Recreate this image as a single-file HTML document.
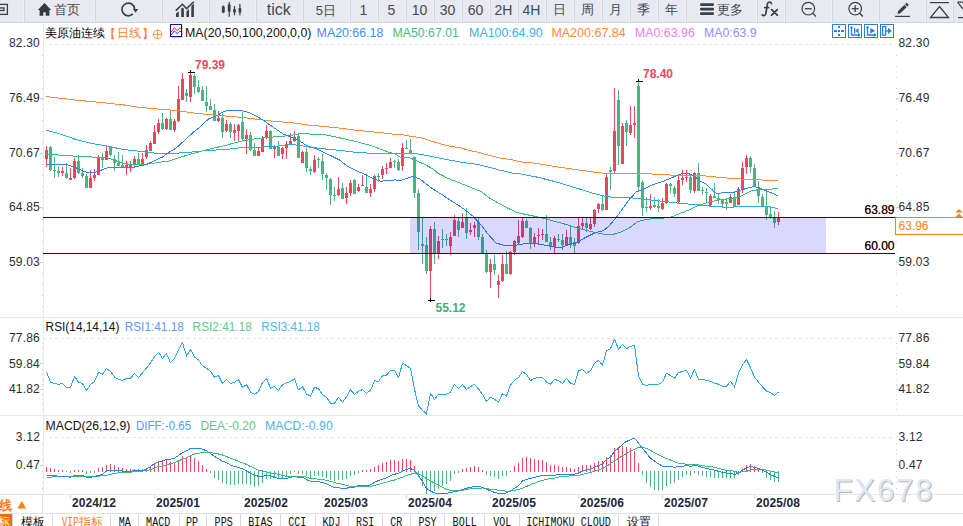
<!DOCTYPE html>
<html><head><meta charset="utf-8"><title>chart</title>
<style>html,body{margin:0;padding:0;background:#fff;}body{width:963px;height:526px;overflow:hidden;position:relative;font-family:"Liberation Sans",sans-serif;}</style>
</head><body>
<svg width="963" height="526" viewBox="0 0 963 526" style="position:absolute;left:0;top:0">
<defs><clipPath id="macdclip"><rect x="44" y="416" width="852" height="78"/></clipPath><clipPath id="mainclip"><rect x="43" y="23" width="853" height="294"/></clipPath></defs>
<rect x="0" y="0" width="963" height="22" fill="#e9e9f2"/>
<rect x="0" y="22" width="963" height="1" fill="#d3d5dc"/>
<rect x="24" y="0" width="1" height="22" fill="#d4d6dd"/>
<rect x="23" y="0" width="1" height="22" fill="#f2f2f6"/>
<rect x="95" y="0" width="1" height="22" fill="#d4d6dd"/>
<rect x="94" y="0" width="1" height="22" fill="#f2f2f6"/>
<rect x="162" y="0" width="1" height="22" fill="#d4d6dd"/>
<rect x="161" y="0" width="1" height="22" fill="#f2f2f6"/>
<rect x="209" y="0" width="1" height="22" fill="#d4d6dd"/>
<rect x="208" y="0" width="1" height="22" fill="#f2f2f6"/>
<rect x="256" y="0" width="1" height="22" fill="#d4d6dd"/>
<rect x="255" y="0" width="1" height="22" fill="#f2f2f6"/>
<rect x="303" y="0" width="1" height="22" fill="#d4d6dd"/>
<rect x="302" y="0" width="1" height="22" fill="#f2f2f6"/>
<rect x="350" y="0" width="1" height="22" fill="#d4d6dd"/>
<rect x="349" y="0" width="1" height="22" fill="#f2f2f6"/>
<rect x="378" y="0" width="1" height="22" fill="#d4d6dd"/>
<rect x="377" y="0" width="1" height="22" fill="#f2f2f6"/>
<rect x="406" y="0" width="1" height="22" fill="#d4d6dd"/>
<rect x="405" y="0" width="1" height="22" fill="#f2f2f6"/>
<rect x="434" y="0" width="1" height="22" fill="#d4d6dd"/>
<rect x="433" y="0" width="1" height="22" fill="#f2f2f6"/>
<rect x="462" y="0" width="1" height="22" fill="#d4d6dd"/>
<rect x="461" y="0" width="1" height="22" fill="#f2f2f6"/>
<rect x="490" y="0" width="1" height="22" fill="#d4d6dd"/>
<rect x="489" y="0" width="1" height="22" fill="#f2f2f6"/>
<rect x="518" y="0" width="1" height="22" fill="#d4d6dd"/>
<rect x="517" y="0" width="1" height="22" fill="#f2f2f6"/>
<rect x="546" y="0" width="1" height="22" fill="#d4d6dd"/>
<rect x="545" y="0" width="1" height="22" fill="#f2f2f6"/>
<rect x="574" y="0" width="1" height="22" fill="#d4d6dd"/>
<rect x="573" y="0" width="1" height="22" fill="#f2f2f6"/>
<rect x="602" y="0" width="1" height="22" fill="#d4d6dd"/>
<rect x="601" y="0" width="1" height="22" fill="#f2f2f6"/>
<rect x="630" y="0" width="1" height="22" fill="#d4d6dd"/>
<rect x="629" y="0" width="1" height="22" fill="#f2f2f6"/>
<rect x="658" y="0" width="1" height="22" fill="#d4d6dd"/>
<rect x="657" y="0" width="1" height="22" fill="#f2f2f6"/>
<rect x="686" y="0" width="1" height="22" fill="#d4d6dd"/>
<rect x="685" y="0" width="1" height="22" fill="#f2f2f6"/>
<rect x="757" y="0" width="1" height="22" fill="#d4d6dd"/>
<rect x="756" y="0" width="1" height="22" fill="#f2f2f6"/>
<rect x="785" y="0" width="1" height="22" fill="#d4d6dd"/>
<rect x="784" y="0" width="1" height="22" fill="#f2f2f6"/>
<rect x="832" y="0" width="1" height="22" fill="#d4d6dd"/>
<rect x="831" y="0" width="1" height="22" fill="#f2f2f6"/>
<rect x="879" y="0" width="1" height="22" fill="#d4d6dd"/>
<rect x="878" y="0" width="1" height="22" fill="#f2f2f6"/>
<rect x="926" y="0" width="1" height="22" fill="#d4d6dd"/>
<rect x="925" y="0" width="1" height="22" fill="#f2f2f6"/>
<rect x="953" y="0" width="1" height="22" fill="#d4d6dd"/>
<rect x="952" y="0" width="1" height="22" fill="#f2f2f6"/>
<rect x="-4" y="4.4" width="11.4" height="10" fill="none" stroke="#3b3f48" stroke-width="1.3"/>
<rect x="-1" y="7.9" width="5" height="2.6" fill="none" stroke="#3b3f48" stroke-width="1.3"/>
<path d="M37.8 9.9 L44.5 2.9 L51.2 9.9 L49.4 9.9 L49.4 15.7 L45.7 15.7 L45.7 12.2 L43.3 12.2 L43.3 15.7 L39.6 15.7 L39.6 9.9 Z" fill="#2f3a44"/>
<path d="M134.6 8.8 A6.35 6.35 0 1 0 132.8 13.9" fill="none" stroke="#3b3f48" stroke-width="1.7"/>
<path d="M132.8 8.9 L138.2 8.9 L135.6 12.7 Z" fill="#3b3f48"/>
<path d="M176 13.6 L178.8 11.2 L178.8 17 L176 17 Z M181.2 8.6 L182.4 7.4 L183.9 8.8 L183.9 17 L181.2 17 Z M186.4 11.6 L189 9 L189 17 L186.4 17 Z M191.3 6 L193.9 3.5 L193.9 17 L191.3 17 Z" fill="#3b3f48"/>
<path d="M175.8 10.6 L182.4 4.3 L186.6 8.6 L193.8 1.8" fill="none" stroke="#3b3f48" stroke-width="1.5"/>
<rect x="222.70000000000002" y="5.5" width="1.2" height="7.699999999999999" fill="#3b3f48"/>
<rect x="221.85000000000002" y="6.2" width="2.9" height="6.3999999999999995" fill="#3b3f48" rx="0.6"/>
<rect x="228.6" y="2" width="1.2" height="14.8" fill="#3b3f48"/>
<rect x="227.79999999999998" y="4.3" width="2.8" height="7.3999999999999995" fill="#3b3f48" rx="0.6"/>
<rect x="233.9" y="6" width="1.2" height="9.4" fill="#3b3f48"/>
<rect x="233.15" y="8.9" width="2.7" height="3.6999999999999993" fill="#3b3f48" rx="0.6"/>
<rect x="239.3" y="3.9" width="1.2" height="11.5" fill="#3b3f48"/>
<rect x="238.55" y="7.9" width="2.7" height="4.699999999999999" fill="#3b3f48" rx="0.6"/>
<text x="67" y="13.8" font-family="'Liberation Sans', sans-serif" font-size="12.5" fill="#464a53" text-anchor="middle" >首页</text>
<text x="278.8" y="15" font-family="'Liberation Sans', sans-serif" font-size="16" fill="#464a53" text-anchor="middle" >tick</text>
<text x="325.8" y="14.5" font-family="'Liberation Sans', sans-serif" font-size="13" fill="#464a53" text-anchor="middle" >5日</text>
<text x="363.5" y="14.6" font-family="'Liberation Sans', sans-serif" font-size="14" fill="#464a53" text-anchor="middle" >1</text>
<text x="391.5" y="14.6" font-family="'Liberation Sans', sans-serif" font-size="14" fill="#464a53" text-anchor="middle" >5</text>
<text x="419.5" y="14.6" font-family="'Liberation Sans', sans-serif" font-size="14" fill="#464a53" text-anchor="middle" >10</text>
<text x="447.5" y="14.6" font-family="'Liberation Sans', sans-serif" font-size="14" fill="#464a53" text-anchor="middle" >30</text>
<text x="475.5" y="14.6" font-family="'Liberation Sans', sans-serif" font-size="14" fill="#464a53" text-anchor="middle" >60</text>
<text x="503.5" y="14.6" font-family="'Liberation Sans', sans-serif" font-size="14" fill="#464a53" text-anchor="middle" >2H</text>
<text x="531.5" y="14.6" font-family="'Liberation Sans', sans-serif" font-size="14" fill="#464a53" text-anchor="middle" >4H</text>
<text x="559.5" y="13.8" font-family="'Liberation Sans', sans-serif" font-size="12.5" fill="#464a53" text-anchor="middle" >日</text>
<text x="587.5" y="13.8" font-family="'Liberation Sans', sans-serif" font-size="12.5" fill="#464a53" text-anchor="middle" >周</text>
<text x="615.5" y="13.8" font-family="'Liberation Sans', sans-serif" font-size="12.5" fill="#464a53" text-anchor="middle" >月</text>
<text x="643.5" y="13.8" font-family="'Liberation Sans', sans-serif" font-size="12.5" fill="#464a53" text-anchor="middle" >季</text>
<text x="671.5" y="13.8" font-family="'Liberation Sans', sans-serif" font-size="12.5" fill="#464a53" text-anchor="middle" >年</text>
<rect x="700" y="3.3" width="14" height="2.6" rx="1.2" fill="#3b3f48"/>
<rect x="700" y="7.8" width="14" height="2.6" rx="1.2" fill="#3b3f48"/>
<rect x="700" y="12.3" width="14" height="2.6" rx="1.2" fill="#3b3f48"/>
<text x="730" y="13.8" font-family="'Liberation Sans', sans-serif" font-size="12.5" fill="#464a53" text-anchor="middle" >更多</text>
<path d="M771.4 3.6 C770.8 1.5 768 1.3 767.4 4 L765.9 13.4 C765.5 15.8 763.5 15.9 762.2 15" fill="none" stroke="#3b3f48" stroke-width="1.7" stroke-linecap="round"/>
<path d="M764 7.6 H769.4" fill="none" stroke="#3b3f48" stroke-width="1.6"/>
<path d="M771.6 9.6 L777.3 15.2 M777.3 9.6 L771.6 15.2" fill="none" stroke="#3b3f48" stroke-width="1.8" stroke-linecap="round"/>
<circle cx="808.3" cy="8.7" r="6.3" fill="none" stroke="#3b3f48" stroke-width="1.2"/>
<line x1="812.9" y1="13.299999999999999" x2="815.9" y2="16.5" stroke="#3b3f48" stroke-width="1.3"/>
<line x1="804.9" y1="8.7" x2="811.6999999999999" y2="8.7" stroke="#3b3f48" stroke-width="1.3"/>
<circle cx="855.2" cy="8.7" r="6.3" fill="none" stroke="#3b3f48" stroke-width="1.2"/>
<line x1="859.8000000000001" y1="13.299999999999999" x2="862.8000000000001" y2="16.5" stroke="#3b3f48" stroke-width="1.3"/>
<line x1="851.8000000000001" y1="8.7" x2="858.6" y2="8.7" stroke="#3b3f48" stroke-width="1.3"/>
<line x1="855.2" y1="5.299999999999999" x2="855.2" y2="12.1" stroke="#3b3f48" stroke-width="1.3"/>
<path d="M897.5 14 L898.14 11.1 L904.5 4.74 L906.76 7 L900.4 13.36 Z M905.07 4.17 L906.62 2.62 L908.88 4.88 L907.33 6.43 Z" fill="#3b3f48"/>
<rect x="895" y="15.8" width="15" height="1.2" fill="#3b3f48"/>
<rect x="930" y="2" width="19" height="1.2" fill="#3b3f48"/>
<path d="M939.5 6.5 L948.5 17.5 L930.5 17.5 Z" fill="none" stroke="#3b3f48" stroke-width="1.3"/>
<path d="M957.5 2.2 L964 2.2 M957.5 2.2 L963 9" fill="none" stroke="#3b3f48" stroke-width="1.2"/>
<rect x="958" y="17" width="5" height="1.2" fill="#3b3f48"/>
<rect x="0" y="317" width="963" height="1" fill="#e4e7ed"/>
<rect x="0" y="415" width="963" height="1" fill="#e4e7ed"/>
<rect x="0" y="494" width="963" height="1" fill="#e4e7ed"/>
<rect x="43" y="23" width="1" height="471" fill="#e6ebf2"/>
<text x="40" y="47.2" font-family="'Liberation Sans', sans-serif" font-size="12" fill="#2a2d36" text-anchor="end" letter-spacing="0.2">82.30</text>
<text x="898.5" y="47.2" font-family="'Liberation Sans', sans-serif" font-size="12" fill="#2a2d36" letter-spacing="0.2">82.30</text>
<text x="40" y="101.8" font-family="'Liberation Sans', sans-serif" font-size="12" fill="#2a2d36" text-anchor="end" letter-spacing="0.2">76.49</text>
<text x="898.5" y="101.8" font-family="'Liberation Sans', sans-serif" font-size="12" fill="#2a2d36" letter-spacing="0.2">76.49</text>
<rect x="40" y="98" width="3" height="1" fill="#c9ced6"/>
<rect x="896" y="98" width="3" height="1" fill="#c9ced6"/>
<text x="40" y="156.5" font-family="'Liberation Sans', sans-serif" font-size="12" fill="#2a2d36" text-anchor="end" letter-spacing="0.2">70.67</text>
<text x="898.5" y="156.5" font-family="'Liberation Sans', sans-serif" font-size="12" fill="#2a2d36" letter-spacing="0.2">70.67</text>
<rect x="40" y="153" width="3" height="1" fill="#c9ced6"/>
<rect x="896" y="153" width="3" height="1" fill="#c9ced6"/>
<text x="40" y="211.2" font-family="'Liberation Sans', sans-serif" font-size="12" fill="#2a2d36" text-anchor="end" letter-spacing="0.2">64.85</text>
<text x="898.5" y="211.2" font-family="'Liberation Sans', sans-serif" font-size="12" fill="#2a2d36" letter-spacing="0.2">64.85</text>
<rect x="40" y="207" width="3" height="1" fill="#c9ced6"/>
<rect x="896" y="207" width="3" height="1" fill="#c9ced6"/>
<text x="40" y="265.8" font-family="'Liberation Sans', sans-serif" font-size="12" fill="#2a2d36" text-anchor="end" letter-spacing="0.2">59.03</text>
<text x="898.5" y="265.8" font-family="'Liberation Sans', sans-serif" font-size="12" fill="#2a2d36" letter-spacing="0.2">59.03</text>
<rect x="40" y="262" width="3" height="1" fill="#c9ced6"/>
<rect x="896" y="262" width="3" height="1" fill="#c9ced6"/>
<rect x="42" y="55" width="1" height="1" fill="#c9ced6"/>
<rect x="896" y="55" width="1" height="1" fill="#c9ced6"/>
<rect x="42" y="66" width="1" height="1" fill="#c9ced6"/>
<rect x="896" y="66" width="1" height="1" fill="#c9ced6"/>
<rect x="42" y="77" width="1" height="1" fill="#c9ced6"/>
<rect x="896" y="77" width="1" height="1" fill="#c9ced6"/>
<rect x="42" y="88" width="1" height="1" fill="#c9ced6"/>
<rect x="896" y="88" width="1" height="1" fill="#c9ced6"/>
<rect x="42" y="99" width="1" height="1" fill="#c9ced6"/>
<rect x="896" y="99" width="1" height="1" fill="#c9ced6"/>
<rect x="42" y="109" width="1" height="1" fill="#c9ced6"/>
<rect x="896" y="109" width="1" height="1" fill="#c9ced6"/>
<rect x="42" y="120" width="1" height="1" fill="#c9ced6"/>
<rect x="896" y="120" width="1" height="1" fill="#c9ced6"/>
<rect x="42" y="131" width="1" height="1" fill="#c9ced6"/>
<rect x="896" y="131" width="1" height="1" fill="#c9ced6"/>
<rect x="42" y="142" width="1" height="1" fill="#c9ced6"/>
<rect x="896" y="142" width="1" height="1" fill="#c9ced6"/>
<rect x="42" y="153" width="1" height="1" fill="#c9ced6"/>
<rect x="896" y="153" width="1" height="1" fill="#c9ced6"/>
<rect x="42" y="164" width="1" height="1" fill="#c9ced6"/>
<rect x="896" y="164" width="1" height="1" fill="#c9ced6"/>
<rect x="42" y="175" width="1" height="1" fill="#c9ced6"/>
<rect x="896" y="175" width="1" height="1" fill="#c9ced6"/>
<rect x="42" y="186" width="1" height="1" fill="#c9ced6"/>
<rect x="896" y="186" width="1" height="1" fill="#c9ced6"/>
<rect x="42" y="197" width="1" height="1" fill="#c9ced6"/>
<rect x="896" y="197" width="1" height="1" fill="#c9ced6"/>
<rect x="42" y="208" width="1" height="1" fill="#c9ced6"/>
<rect x="896" y="208" width="1" height="1" fill="#c9ced6"/>
<rect x="42" y="219" width="1" height="1" fill="#c9ced6"/>
<rect x="896" y="219" width="1" height="1" fill="#c9ced6"/>
<rect x="42" y="230" width="1" height="1" fill="#c9ced6"/>
<rect x="896" y="230" width="1" height="1" fill="#c9ced6"/>
<rect x="42" y="241" width="1" height="1" fill="#c9ced6"/>
<rect x="896" y="241" width="1" height="1" fill="#c9ced6"/>
<rect x="42" y="252" width="1" height="1" fill="#c9ced6"/>
<rect x="896" y="252" width="1" height="1" fill="#c9ced6"/>
<rect x="42" y="262" width="1" height="1" fill="#c9ced6"/>
<rect x="896" y="262" width="1" height="1" fill="#c9ced6"/>
<rect x="42" y="273" width="1" height="1" fill="#c9ced6"/>
<rect x="896" y="273" width="1" height="1" fill="#c9ced6"/>
<rect x="42" y="284" width="1" height="1" fill="#c9ced6"/>
<rect x="896" y="284" width="1" height="1" fill="#c9ced6"/>
<rect x="42" y="295" width="1" height="1" fill="#c9ced6"/>
<rect x="896" y="295" width="1" height="1" fill="#c9ced6"/>
<rect x="42" y="306" width="1" height="1" fill="#c9ced6"/>
<rect x="896" y="306" width="1" height="1" fill="#c9ced6"/>
<line x1="44" y1="44.5" x2="893" y2="44.5" stroke="#e2e7ed" stroke-width="1" stroke-dasharray="3,3" stroke-dashoffset="1"/>
<text x="40" y="342.1" font-family="'Liberation Sans', sans-serif" font-size="12" fill="#2a2d36" text-anchor="end" letter-spacing="0.2">77.86</text>
<text x="898.5" y="342.1" font-family="'Liberation Sans', sans-serif" font-size="12" fill="#2a2d36" letter-spacing="0.2">77.86</text>
<text x="40" y="367.7" font-family="'Liberation Sans', sans-serif" font-size="12" fill="#2a2d36" text-anchor="end" letter-spacing="0.2">59.84</text>
<text x="898.5" y="367.7" font-family="'Liberation Sans', sans-serif" font-size="12" fill="#2a2d36" letter-spacing="0.2">59.84</text>
<rect x="40" y="363" width="3" height="1" fill="#c9ced6"/>
<rect x="896" y="363" width="3" height="1" fill="#c9ced6"/>
<text x="40" y="393.3" font-family="'Liberation Sans', sans-serif" font-size="12" fill="#2a2d36" text-anchor="end" letter-spacing="0.2">41.82</text>
<text x="898.5" y="393.3" font-family="'Liberation Sans', sans-serif" font-size="12" fill="#2a2d36" letter-spacing="0.2">41.82</text>
<rect x="40" y="389" width="3" height="1" fill="#c9ced6"/>
<rect x="896" y="389" width="3" height="1" fill="#c9ced6"/>
<rect x="42" y="343" width="1" height="1" fill="#c9ced6"/>
<rect x="896" y="343" width="1" height="1" fill="#c9ced6"/>
<rect x="42" y="348" width="1" height="1" fill="#c9ced6"/>
<rect x="896" y="348" width="1" height="1" fill="#c9ced6"/>
<rect x="42" y="353" width="1" height="1" fill="#c9ced6"/>
<rect x="896" y="353" width="1" height="1" fill="#c9ced6"/>
<rect x="42" y="358" width="1" height="1" fill="#c9ced6"/>
<rect x="896" y="358" width="1" height="1" fill="#c9ced6"/>
<rect x="42" y="363" width="1" height="1" fill="#c9ced6"/>
<rect x="896" y="363" width="1" height="1" fill="#c9ced6"/>
<rect x="42" y="369" width="1" height="1" fill="#c9ced6"/>
<rect x="896" y="369" width="1" height="1" fill="#c9ced6"/>
<rect x="42" y="374" width="1" height="1" fill="#c9ced6"/>
<rect x="896" y="374" width="1" height="1" fill="#c9ced6"/>
<rect x="42" y="379" width="1" height="1" fill="#c9ced6"/>
<rect x="896" y="379" width="1" height="1" fill="#c9ced6"/>
<rect x="42" y="384" width="1" height="1" fill="#c9ced6"/>
<rect x="896" y="384" width="1" height="1" fill="#c9ced6"/>
<rect x="42" y="389" width="1" height="1" fill="#c9ced6"/>
<rect x="896" y="389" width="1" height="1" fill="#c9ced6"/>
<rect x="42" y="394" width="1" height="1" fill="#c9ced6"/>
<rect x="896" y="394" width="1" height="1" fill="#c9ced6"/>
<rect x="42" y="399" width="1" height="1" fill="#c9ced6"/>
<rect x="896" y="399" width="1" height="1" fill="#c9ced6"/>
<rect x="42" y="404" width="1" height="1" fill="#c9ced6"/>
<rect x="896" y="404" width="1" height="1" fill="#c9ced6"/>
<rect x="42" y="409" width="1" height="1" fill="#c9ced6"/>
<rect x="896" y="409" width="1" height="1" fill="#c9ced6"/>
<line x1="44" y1="338.5" x2="893" y2="338.5" stroke="#e2e7ed" stroke-width="1" stroke-dasharray="3,3" stroke-dashoffset="1"/>
<text x="40" y="440.6" font-family="'Liberation Sans', sans-serif" font-size="12" fill="#2a2d36" text-anchor="end" letter-spacing="0.2">3.12</text>
<text x="898.5" y="440.6" font-family="'Liberation Sans', sans-serif" font-size="12" fill="#2a2d36" letter-spacing="0.2">3.12</text>
<text x="40" y="468.7" font-family="'Liberation Sans', sans-serif" font-size="12" fill="#2a2d36" text-anchor="end" letter-spacing="0.2">0.47</text>
<text x="898.5" y="468.7" font-family="'Liberation Sans', sans-serif" font-size="12" fill="#2a2d36" letter-spacing="0.2">0.47</text>
<rect x="40" y="465" width="3" height="1" fill="#c9ced6"/>
<rect x="896" y="465" width="3" height="1" fill="#c9ced6"/>
<rect x="42" y="443" width="1" height="1" fill="#c9ced6"/>
<rect x="896" y="443" width="1" height="1" fill="#c9ced6"/>
<rect x="42" y="449" width="1" height="1" fill="#c9ced6"/>
<rect x="896" y="449" width="1" height="1" fill="#c9ced6"/>
<rect x="42" y="454" width="1" height="1" fill="#c9ced6"/>
<rect x="896" y="454" width="1" height="1" fill="#c9ced6"/>
<rect x="42" y="460" width="1" height="1" fill="#c9ced6"/>
<rect x="896" y="460" width="1" height="1" fill="#c9ced6"/>
<rect x="42" y="465" width="1" height="1" fill="#c9ced6"/>
<rect x="896" y="465" width="1" height="1" fill="#c9ced6"/>
<rect x="42" y="471" width="1" height="1" fill="#c9ced6"/>
<rect x="896" y="471" width="1" height="1" fill="#c9ced6"/>
<rect x="42" y="477" width="1" height="1" fill="#c9ced6"/>
<rect x="896" y="477" width="1" height="1" fill="#c9ced6"/>
<rect x="42" y="482" width="1" height="1" fill="#c9ced6"/>
<rect x="896" y="482" width="1" height="1" fill="#c9ced6"/>
<rect x="42" y="488" width="1" height="1" fill="#c9ced6"/>
<rect x="896" y="488" width="1" height="1" fill="#c9ced6"/>
<line x1="44" y1="437.5" x2="893" y2="437.5" stroke="#e2e7ed" stroke-width="1" stroke-dasharray="3,3" stroke-dashoffset="1"/>
<text x="45" y="36.5" font-family="'Liberation Sans', sans-serif" font-size="12" fill="#000">美原油连续</text>
<text x="104.3" y="37.5" font-family="'Liberation Sans', sans-serif" font-size="12.4" fill="#ff7d1e">【</text>
<text x="116.7" y="36.5" font-family="'Liberation Sans', sans-serif" font-size="12.4" fill="#ff7d1e">日线</text>
<text x="141.5" y="37.5" font-family="'Liberation Sans', sans-serif" font-size="12.4" fill="#ff7d1e">】</text>
<circle cx="157.6" cy="34.4" r="4.3" fill="none" stroke="#ff8a2a" stroke-width="0.9"/>
<path d="M153.3 34.4 H161.9 M157.6 30.1 V38.7" stroke="#ff8a2a" stroke-width="0.9"/>
<rect x="171.5" y="25.5" width="11" height="12" fill="#9a9a9a"/>
<rect x="170.5" y="24.5" width="11" height="12" fill="#fff" stroke="#0a1a8c" stroke-width="1"/>
<path d="M171.3 32 L174.3 27.6 L177.2 30.8 L179.5 28.2 L181 28.2" fill="none" stroke="#ff2020" stroke-width="1"/>
<path d="M171.3 35 L174.3 30.8 L177.2 33.6 L179.5 31.4 L181 31.4" fill="none" stroke="#1a2aff" stroke-width="1"/>
<text x="185" y="36.5" font-family="'Liberation Sans', sans-serif" font-size="12" fill="#111" textLength="126.4" lengthAdjust="spacingAndGlyphs">MA(20,50,100,200,0,0)</text>
<text x="316.6" y="36.5" font-family="'Liberation Sans', sans-serif" font-size="12" fill="#3b8ef8" textLength="66.7" lengthAdjust="spacingAndGlyphs">MA20:66.18</text>
<text x="392.6" y="36.5" font-family="'Liberation Sans', sans-serif" font-size="12" fill="#45c07c" textLength="66.2" lengthAdjust="spacingAndGlyphs">MA50:67.01</text>
<text x="469.1" y="36.5" font-family="'Liberation Sans', sans-serif" font-size="12" fill="#38b2ea" textLength="73.6" lengthAdjust="spacingAndGlyphs">MA100:64.90</text>
<text x="551.4" y="36.5" font-family="'Liberation Sans', sans-serif" font-size="12" fill="#ff8a3a" textLength="74.3" lengthAdjust="spacingAndGlyphs">MA200:67.84</text>
<text x="634.8" y="36.5" font-family="'Liberation Sans', sans-serif" font-size="12" fill="#f07ee0" textLength="60.1" lengthAdjust="spacingAndGlyphs">MA0:63.96</text>
<text x="704" y="36.5" font-family="'Liberation Sans', sans-serif" font-size="12" fill="#8f8ff5" textLength="52.6" lengthAdjust="spacingAndGlyphs">MA0:63.9</text>
<rect x="832.5" y="24.5" width="13" height="13" fill="#fff" stroke="#2a7fd8" stroke-width="1"/>
<rect x="848.5" y="24.5" width="13" height="13" fill="#fff" stroke="#2a7fd8" stroke-width="1"/>
<rect x="864.5" y="24.5" width="13" height="13" fill="#fff" stroke="#2a7fd8" stroke-width="1"/>
<rect x="880.5" y="24.5" width="13" height="13" fill="#fff" stroke="#2a7fd8" stroke-width="1"/>
<rect x="838" y="26" width="2" height="2" fill="#2a7fd8"/>
<rect x="838" y="30" width="2" height="2" fill="#2a7fd8"/>
<rect x="838" y="34" width="2" height="2" fill="#2a7fd8"/>
<rect x="834" y="30" width="3" height="2" fill="#2a7fd8"/>
<rect x="841" y="30" width="3" height="2" fill="#2a7fd8"/>
<path d="M851.5 26.5 V35 H860" fill="none" stroke="#2a7fd8" stroke-width="1.3"/>
<path d="M849.7 28.3 L851.5 26 L853.3 28.3 Z M858 33 L860.3 35 L858 37 Z" fill="#2a7fd8"/>
<path d="M867.5 26.5 V35 H876" fill="none" stroke="#2a7fd8" stroke-width="1.3"/>
<path d="M865.7 28.3 L867.5 26 L869.3 28.3 Z M874 33 L876.3 35 L874 37 Z" fill="#2a7fd8"/>
<rect x="854" y="28" width="1.3" height="5.5" fill="#2a7fd8"/>
<path d="M858.6 28 L855.3 30.75 L858.6 33.5 Z" fill="#2a7fd8"/>
<path d="M870.3 28 L875.2 30.75 L870.3 33.5 Z" fill="#2a7fd8"/>
<rect x="882.6" y="26.6" width="3" height="8.6" fill="none" stroke="#2a7fd8" stroke-width="1.3"/>
<rect x="885.6" y="30.2" width="3" height="1.4" fill="#2a7fd8"/>
<path d="M888 27.8 L891.8 30.9 L888 34 Z" fill="#2a7fd8"/>
<g clip-path="url(#mainclip)">
<rect x="46" y="146" width="1" height="21" fill="#e9485a"/>
<rect x="45" y="150" width="3" height="9" fill="#e9485a"/>
<rect x="50" y="146" width="1" height="25" fill="#4eb283"/>
<rect x="49" y="147" width="3" height="23" fill="#4eb283"/>
<rect x="54" y="157" width="1" height="21" fill="#4eb283"/>
<rect x="53" y="170" width="3" height="1" fill="#4eb283"/>
<rect x="58" y="166" width="1" height="11" fill="#4eb283"/>
<rect x="57" y="171" width="3" height="2" fill="#4eb283"/>
<rect x="62" y="167" width="1" height="9" fill="#e9485a"/>
<rect x="61" y="171" width="3" height="2" fill="#e9485a"/>
<rect x="66" y="163" width="1" height="16" fill="#4eb283"/>
<rect x="65" y="173" width="3" height="5" fill="#4eb283"/>
<rect x="70" y="168" width="1" height="12" fill="#e9485a"/>
<rect x="69" y="178" width="3" height="2" fill="#e9485a"/>
<rect x="74" y="158" width="1" height="21" fill="#e9485a"/>
<rect x="73" y="161" width="3" height="17" fill="#e9485a"/>
<rect x="78" y="155" width="1" height="19" fill="#4eb283"/>
<rect x="77" y="161" width="3" height="12" fill="#4eb283"/>
<rect x="82" y="168" width="1" height="10" fill="#4eb283"/>
<rect x="81" y="173" width="3" height="3" fill="#4eb283"/>
<rect x="86" y="174" width="1" height="14" fill="#4eb283"/>
<rect x="85" y="176" width="3" height="12" fill="#4eb283"/>
<rect x="90" y="170" width="1" height="18" fill="#e9485a"/>
<rect x="89" y="178" width="3" height="10" fill="#e9485a"/>
<rect x="94" y="169" width="1" height="12" fill="#e9485a"/>
<rect x="93" y="175" width="3" height="3" fill="#e9485a"/>
<rect x="98" y="155" width="1" height="20" fill="#e9485a"/>
<rect x="97" y="158" width="3" height="17" fill="#e9485a"/>
<rect x="102" y="153" width="1" height="15" fill="#4eb283"/>
<rect x="101" y="157" width="3" height="3" fill="#4eb283"/>
<rect x="106" y="147" width="1" height="13" fill="#e9485a"/>
<rect x="105" y="151" width="3" height="9" fill="#e9485a"/>
<rect x="110" y="146" width="1" height="10" fill="#4eb283"/>
<rect x="109" y="147" width="3" height="8" fill="#4eb283"/>
<rect x="114" y="155" width="1" height="16" fill="#4eb283"/>
<rect x="113" y="159" width="3" height="4" fill="#4eb283"/>
<rect x="118" y="152" width="1" height="14" fill="#4eb283"/>
<rect x="117" y="163" width="3" height="3" fill="#4eb283"/>
<rect x="122" y="155" width="1" height="12" fill="#4eb283"/>
<rect x="121" y="165" width="3" height="2" fill="#4eb283"/>
<rect x="126" y="161" width="1" height="14" fill="#e9485a"/>
<rect x="125" y="165" width="3" height="3" fill="#e9485a"/>
<rect x="130" y="161" width="1" height="11" fill="#e9485a"/>
<rect x="129" y="165" width="3" height="2" fill="#e9485a"/>
<rect x="134" y="156" width="1" height="10" fill="#e9485a"/>
<rect x="133" y="159" width="3" height="5" fill="#e9485a"/>
<rect x="138" y="153" width="1" height="12" fill="#4eb283"/>
<rect x="137" y="159" width="3" height="6" fill="#4eb283"/>
<rect x="142" y="153" width="1" height="11" fill="#e9485a"/>
<rect x="141" y="159" width="3" height="5" fill="#e9485a"/>
<rect x="146" y="145" width="1" height="14" fill="#e9485a"/>
<rect x="145" y="150" width="3" height="7" fill="#e9485a"/>
<rect x="150" y="141" width="1" height="10" fill="#e9485a"/>
<rect x="149" y="143" width="3" height="8" fill="#e9485a"/>
<rect x="154" y="125" width="1" height="19" fill="#e9485a"/>
<rect x="153" y="132" width="3" height="12" fill="#e9485a"/>
<rect x="158" y="119" width="1" height="15" fill="#e9485a"/>
<rect x="157" y="123" width="3" height="9" fill="#e9485a"/>
<rect x="162" y="113" width="1" height="17" fill="#4eb283"/>
<rect x="161" y="123" width="3" height="6" fill="#4eb283"/>
<rect x="166" y="118" width="1" height="12" fill="#e9485a"/>
<rect x="165" y="119" width="3" height="10" fill="#e9485a"/>
<rect x="170" y="111" width="1" height="19" fill="#4eb283"/>
<rect x="169" y="119" width="3" height="11" fill="#4eb283"/>
<rect x="174" y="119" width="1" height="13" fill="#e9485a"/>
<rect x="173" y="121" width="3" height="9" fill="#e9485a"/>
<rect x="178" y="86" width="1" height="36" fill="#e9485a"/>
<rect x="177" y="99" width="3" height="22" fill="#e9485a"/>
<rect x="182" y="73" width="1" height="27" fill="#e9485a"/>
<rect x="181" y="79" width="3" height="21" fill="#e9485a"/>
<rect x="186" y="89" width="1" height="13" fill="#4eb283"/>
<rect x="185" y="93" width="3" height="3" fill="#4eb283"/>
<rect x="190" y="72" width="1" height="30" fill="#e9485a"/>
<rect x="189" y="75" width="3" height="22" fill="#e9485a"/>
<rect x="194" y="74" width="1" height="20" fill="#4eb283"/>
<rect x="193" y="76" width="3" height="11" fill="#4eb283"/>
<rect x="198" y="80" width="1" height="13" fill="#4eb283"/>
<rect x="197" y="87" width="3" height="5" fill="#4eb283"/>
<rect x="202" y="86" width="1" height="15" fill="#4eb283"/>
<rect x="201" y="90" width="3" height="11" fill="#4eb283"/>
<rect x="206" y="86" width="1" height="26" fill="#4eb283"/>
<rect x="205" y="102" width="3" height="4" fill="#4eb283"/>
<rect x="210" y="99" width="1" height="11" fill="#4eb283"/>
<rect x="209" y="106" width="3" height="4" fill="#4eb283"/>
<rect x="214" y="104" width="1" height="17" fill="#4eb283"/>
<rect x="213" y="110" width="3" height="11" fill="#4eb283"/>
<rect x="218" y="111" width="1" height="11" fill="#e9485a"/>
<rect x="217" y="118" width="3" height="3" fill="#e9485a"/>
<rect x="222" y="112" width="1" height="26" fill="#4eb283"/>
<rect x="221" y="118" width="3" height="14" fill="#4eb283"/>
<rect x="226" y="120" width="1" height="12" fill="#e9485a"/>
<rect x="225" y="124" width="3" height="7" fill="#e9485a"/>
<rect x="230" y="122" width="1" height="16" fill="#4eb283"/>
<rect x="229" y="124" width="3" height="8" fill="#4eb283"/>
<rect x="234" y="124" width="1" height="17" fill="#e9485a"/>
<rect x="233" y="130" width="3" height="3" fill="#e9485a"/>
<rect x="238" y="124" width="1" height="17" fill="#e9485a"/>
<rect x="237" y="125" width="3" height="6" fill="#e9485a"/>
<rect x="242" y="112" width="1" height="29" fill="#4eb283"/>
<rect x="241" y="122" width="3" height="17" fill="#4eb283"/>
<rect x="246" y="129" width="1" height="25" fill="#e9485a"/>
<rect x="245" y="135" width="3" height="4" fill="#e9485a"/>
<rect x="250" y="132" width="1" height="19" fill="#4eb283"/>
<rect x="249" y="135" width="3" height="15" fill="#4eb283"/>
<rect x="254" y="143" width="1" height="13" fill="#4eb283"/>
<rect x="253" y="150" width="3" height="6" fill="#4eb283"/>
<rect x="258" y="148" width="1" height="8" fill="#e9485a"/>
<rect x="257" y="151" width="3" height="5" fill="#e9485a"/>
<rect x="262" y="136" width="1" height="16" fill="#e9485a"/>
<rect x="261" y="138" width="3" height="14" fill="#e9485a"/>
<rect x="266" y="125" width="1" height="14" fill="#e9485a"/>
<rect x="265" y="131" width="3" height="7" fill="#e9485a"/>
<rect x="270" y="130" width="1" height="19" fill="#4eb283"/>
<rect x="269" y="131" width="3" height="18" fill="#4eb283"/>
<rect x="274" y="145" width="1" height="13" fill="#e9485a"/>
<rect x="273" y="147" width="3" height="2" fill="#e9485a"/>
<rect x="278" y="141" width="1" height="15" fill="#4eb283"/>
<rect x="277" y="147" width="3" height="9" fill="#4eb283"/>
<rect x="282" y="147" width="1" height="12" fill="#e9485a"/>
<rect x="281" y="148" width="3" height="6" fill="#e9485a"/>
<rect x="286" y="141" width="1" height="18" fill="#e9485a"/>
<rect x="285" y="144" width="3" height="4" fill="#e9485a"/>
<rect x="290" y="133" width="1" height="11" fill="#e9485a"/>
<rect x="289" y="141" width="3" height="3" fill="#e9485a"/>
<rect x="294" y="131" width="1" height="11" fill="#e9485a"/>
<rect x="293" y="137" width="3" height="4" fill="#e9485a"/>
<rect x="298" y="134" width="1" height="24" fill="#4eb283"/>
<rect x="297" y="136" width="3" height="22" fill="#4eb283"/>
<rect x="302" y="151" width="1" height="12" fill="#e9485a"/>
<rect x="301" y="152" width="3" height="11" fill="#e9485a"/>
<rect x="306" y="148" width="1" height="24" fill="#4eb283"/>
<rect x="305" y="152" width="3" height="16" fill="#4eb283"/>
<rect x="310" y="167" width="1" height="8" fill="#4eb283"/>
<rect x="309" y="169" width="3" height="2" fill="#4eb283"/>
<rect x="314" y="155" width="1" height="18" fill="#e9485a"/>
<rect x="313" y="160" width="3" height="12" fill="#e9485a"/>
<rect x="318" y="157" width="1" height="11" fill="#4eb283"/>
<rect x="317" y="159" width="3" height="1" fill="#4eb283"/>
<rect x="322" y="154" width="1" height="26" fill="#4eb283"/>
<rect x="321" y="161" width="3" height="13" fill="#4eb283"/>
<rect x="326" y="173" width="1" height="17" fill="#4eb283"/>
<rect x="325" y="175" width="3" height="3" fill="#4eb283"/>
<rect x="330" y="178" width="1" height="27" fill="#4eb283"/>
<rect x="329" y="179" width="3" height="16" fill="#4eb283"/>
<rect x="334" y="187" width="1" height="14" fill="#4eb283"/>
<rect x="333" y="195" width="3" height="1" fill="#4eb283"/>
<rect x="338" y="177" width="1" height="19" fill="#e9485a"/>
<rect x="337" y="189" width="3" height="6" fill="#e9485a"/>
<rect x="342" y="183" width="1" height="16" fill="#4eb283"/>
<rect x="341" y="188" width="3" height="11" fill="#4eb283"/>
<rect x="346" y="187" width="1" height="17" fill="#e9485a"/>
<rect x="345" y="193" width="3" height="5" fill="#e9485a"/>
<rect x="350" y="180" width="1" height="16" fill="#e9485a"/>
<rect x="349" y="183" width="3" height="10" fill="#e9485a"/>
<rect x="354" y="179" width="1" height="15" fill="#4eb283"/>
<rect x="353" y="180" width="3" height="14" fill="#4eb283"/>
<rect x="358" y="184" width="1" height="8" fill="#e9485a"/>
<rect x="357" y="187" width="3" height="4" fill="#e9485a"/>
<rect x="362" y="175" width="1" height="11" fill="#e9485a"/>
<rect x="361" y="185" width="3" height="1" fill="#e9485a"/>
<rect x="366" y="174" width="1" height="19" fill="#4eb283"/>
<rect x="365" y="187" width="3" height="6" fill="#4eb283"/>
<rect x="370" y="184" width="1" height="13" fill="#e9485a"/>
<rect x="369" y="189" width="3" height="4" fill="#e9485a"/>
<rect x="374" y="175" width="1" height="17" fill="#e9485a"/>
<rect x="373" y="176" width="3" height="13" fill="#e9485a"/>
<rect x="378" y="173" width="1" height="9" fill="#4eb283"/>
<rect x="377" y="176" width="3" height="1" fill="#4eb283"/>
<rect x="382" y="166" width="1" height="13" fill="#e9485a"/>
<rect x="381" y="169" width="3" height="6" fill="#e9485a"/>
<rect x="386" y="163" width="1" height="11" fill="#e9485a"/>
<rect x="385" y="168" width="3" height="1" fill="#e9485a"/>
<rect x="390" y="158" width="1" height="10" fill="#e9485a"/>
<rect x="389" y="162" width="3" height="6" fill="#e9485a"/>
<rect x="394" y="160" width="1" height="8" fill="#4eb283"/>
<rect x="393" y="161" width="3" height="1" fill="#4eb283"/>
<rect x="398" y="159" width="1" height="12" fill="#4eb283"/>
<rect x="397" y="162" width="3" height="8" fill="#4eb283"/>
<rect x="402" y="143" width="1" height="28" fill="#e9485a"/>
<rect x="401" y="148" width="3" height="18" fill="#e9485a"/>
<rect x="406" y="140" width="1" height="9" fill="#4eb283"/>
<rect x="405" y="148" width="3" height="1" fill="#4eb283"/>
<rect x="410" y="139" width="1" height="14" fill="#4eb283"/>
<rect x="409" y="150" width="3" height="3" fill="#4eb283"/>
<rect x="414" y="156" width="1" height="42" fill="#4eb283"/>
<rect x="413" y="157" width="3" height="36" fill="#4eb283"/>
<rect x="418" y="189" width="1" height="61" fill="#4eb283"/>
<rect x="417" y="193" width="3" height="39" fill="#4eb283"/>
<rect x="422" y="218" width="1" height="46" fill="#4eb283"/>
<rect x="421" y="244" width="3" height="2" fill="#4eb283"/>
<rect x="426" y="237" width="1" height="37" fill="#4eb283"/>
<rect x="425" y="245" width="3" height="26" fill="#4eb283"/>
<rect x="430" y="226" width="1" height="75" fill="#e9485a"/>
<rect x="429" y="229" width="3" height="42" fill="#e9485a"/>
<rect x="434" y="222" width="1" height="42" fill="#4eb283"/>
<rect x="433" y="229" width="3" height="24" fill="#4eb283"/>
<rect x="438" y="236" width="1" height="23" fill="#e9485a"/>
<rect x="437" y="241" width="3" height="12" fill="#e9485a"/>
<rect x="442" y="229" width="1" height="19" fill="#4eb283"/>
<rect x="441" y="239" width="3" height="1" fill="#4eb283"/>
<rect x="446" y="234" width="1" height="12" fill="#4eb283"/>
<rect x="445" y="239" width="3" height="1" fill="#4eb283"/>
<rect x="450" y="232" width="1" height="23" fill="#e9485a"/>
<rect x="449" y="237" width="3" height="9" fill="#e9485a"/>
<rect x="454" y="215" width="1" height="21" fill="#e9485a"/>
<rect x="453" y="220" width="3" height="16" fill="#e9485a"/>
<rect x="458" y="218" width="1" height="19" fill="#4eb283"/>
<rect x="457" y="221" width="3" height="9" fill="#4eb283"/>
<rect x="462" y="213" width="1" height="15" fill="#e9485a"/>
<rect x="461" y="222" width="3" height="6" fill="#e9485a"/>
<rect x="466" y="208" width="1" height="31" fill="#4eb283"/>
<rect x="465" y="218" width="3" height="15" fill="#4eb283"/>
<rect x="470" y="223" width="1" height="12" fill="#e9485a"/>
<rect x="469" y="230" width="3" height="2" fill="#e9485a"/>
<rect x="474" y="222" width="1" height="15" fill="#e9485a"/>
<rect x="473" y="225" width="3" height="3" fill="#e9485a"/>
<rect x="478" y="218" width="1" height="22" fill="#4eb283"/>
<rect x="477" y="222" width="3" height="15" fill="#4eb283"/>
<rect x="482" y="234" width="1" height="19" fill="#4eb283"/>
<rect x="481" y="237" width="3" height="16" fill="#4eb283"/>
<rect x="486" y="250" width="1" height="23" fill="#4eb283"/>
<rect x="485" y="253" width="3" height="19" fill="#4eb283"/>
<rect x="490" y="259" width="1" height="29" fill="#e9485a"/>
<rect x="489" y="264" width="3" height="8" fill="#e9485a"/>
<rect x="494" y="255" width="1" height="20" fill="#4eb283"/>
<rect x="493" y="264" width="3" height="6" fill="#4eb283"/>
<rect x="498" y="275" width="1" height="23" fill="#e9485a"/>
<rect x="497" y="281" width="3" height="4" fill="#e9485a"/>
<rect x="502" y="255" width="1" height="27" fill="#e9485a"/>
<rect x="501" y="264" width="3" height="17" fill="#e9485a"/>
<rect x="506" y="251" width="1" height="23" fill="#4eb283"/>
<rect x="505" y="264" width="3" height="10" fill="#4eb283"/>
<rect x="510" y="251" width="1" height="24" fill="#e9485a"/>
<rect x="509" y="252" width="3" height="22" fill="#e9485a"/>
<rect x="514" y="240" width="1" height="15" fill="#e9485a"/>
<rect x="513" y="241" width="3" height="11" fill="#e9485a"/>
<rect x="518" y="220" width="1" height="24" fill="#e9485a"/>
<rect x="517" y="236" width="3" height="7" fill="#e9485a"/>
<rect x="522" y="218" width="1" height="20" fill="#e9485a"/>
<rect x="521" y="221" width="3" height="16" fill="#e9485a"/>
<rect x="526" y="219" width="1" height="9" fill="#4eb283"/>
<rect x="525" y="221" width="3" height="7" fill="#4eb283"/>
<rect x="530" y="227" width="1" height="22" fill="#4eb283"/>
<rect x="529" y="228" width="3" height="16" fill="#4eb283"/>
<rect x="534" y="233" width="1" height="14" fill="#e9485a"/>
<rect x="533" y="237" width="3" height="7" fill="#e9485a"/>
<rect x="538" y="228" width="1" height="17" fill="#e9485a"/>
<rect x="537" y="235" width="3" height="1" fill="#e9485a"/>
<rect x="542" y="229" width="1" height="11" fill="#e9485a"/>
<rect x="541" y="234" width="3" height="1" fill="#e9485a"/>
<rect x="546" y="215" width="1" height="27" fill="#4eb283"/>
<rect x="545" y="234" width="3" height="8" fill="#4eb283"/>
<rect x="550" y="237" width="1" height="13" fill="#4eb283"/>
<rect x="549" y="242" width="3" height="5" fill="#4eb283"/>
<rect x="554" y="236" width="1" height="17" fill="#e9485a"/>
<rect x="553" y="238" width="3" height="9" fill="#e9485a"/>
<rect x="558" y="234" width="1" height="8" fill="#4eb283"/>
<rect x="557" y="239" width="3" height="1" fill="#4eb283"/>
<rect x="562" y="234" width="1" height="16" fill="#4eb283"/>
<rect x="561" y="240" width="3" height="5" fill="#4eb283"/>
<rect x="566" y="230" width="1" height="15" fill="#e9485a"/>
<rect x="565" y="237" width="3" height="8" fill="#e9485a"/>
<rect x="570" y="225" width="1" height="23" fill="#4eb283"/>
<rect x="569" y="237" width="3" height="8" fill="#4eb283"/>
<rect x="574" y="238" width="1" height="16" fill="#4eb283"/>
<rect x="573" y="242" width="3" height="4" fill="#4eb283"/>
<rect x="578" y="218" width="1" height="26" fill="#e9485a"/>
<rect x="577" y="226" width="3" height="17" fill="#e9485a"/>
<rect x="582" y="218" width="1" height="12" fill="#e9485a"/>
<rect x="581" y="223" width="3" height="3" fill="#e9485a"/>
<rect x="586" y="218" width="1" height="14" fill="#4eb283"/>
<rect x="585" y="223" width="3" height="5" fill="#4eb283"/>
<rect x="590" y="218" width="1" height="12" fill="#e9485a"/>
<rect x="589" y="224" width="3" height="5" fill="#e9485a"/>
<rect x="594" y="209" width="1" height="18" fill="#e9485a"/>
<rect x="593" y="210" width="3" height="14" fill="#e9485a"/>
<rect x="598" y="203" width="1" height="10" fill="#e9485a"/>
<rect x="597" y="204" width="3" height="5" fill="#e9485a"/>
<rect x="602" y="196" width="1" height="15" fill="#4eb283"/>
<rect x="601" y="204" width="3" height="6" fill="#4eb283"/>
<rect x="606" y="174" width="1" height="36" fill="#e9485a"/>
<rect x="605" y="177" width="3" height="33" fill="#e9485a"/>
<rect x="610" y="167" width="1" height="23" fill="#4eb283"/>
<rect x="609" y="170" width="3" height="2" fill="#4eb283"/>
<rect x="614" y="88" width="1" height="86" fill="#e9485a"/>
<rect x="613" y="131" width="3" height="40" fill="#e9485a"/>
<rect x="618" y="90" width="1" height="75" fill="#4eb283"/>
<rect x="617" y="100" width="3" height="46" fill="#4eb283"/>
<rect x="622" y="123" width="1" height="41" fill="#e9485a"/>
<rect x="621" y="126" width="3" height="38" fill="#e9485a"/>
<rect x="626" y="120" width="1" height="26" fill="#4eb283"/>
<rect x="625" y="123" width="3" height="9" fill="#4eb283"/>
<rect x="630" y="106" width="1" height="29" fill="#e9485a"/>
<rect x="629" y="125" width="3" height="8" fill="#e9485a"/>
<rect x="634" y="106" width="1" height="32" fill="#e9485a"/>
<rect x="633" y="123" width="3" height="2" fill="#e9485a"/>
<rect x="638" y="81" width="1" height="110" fill="#4eb283"/>
<rect x="637" y="86" width="3" height="101" fill="#4eb283"/>
<rect x="642" y="180" width="1" height="36" fill="#4eb283"/>
<rect x="641" y="182" width="3" height="26" fill="#4eb283"/>
<rect x="646" y="197" width="1" height="15" fill="#4eb283"/>
<rect x="645" y="207" width="3" height="1" fill="#4eb283"/>
<rect x="650" y="194" width="1" height="16" fill="#e9485a"/>
<rect x="649" y="206" width="3" height="2" fill="#e9485a"/>
<rect x="654" y="197" width="1" height="11" fill="#4eb283"/>
<rect x="653" y="205" width="3" height="2" fill="#4eb283"/>
<rect x="658" y="199" width="1" height="13" fill="#4eb283"/>
<rect x="657" y="206" width="3" height="2" fill="#4eb283"/>
<rect x="662" y="198" width="1" height="12" fill="#e9485a"/>
<rect x="661" y="203" width="3" height="6" fill="#e9485a"/>
<rect x="666" y="183" width="1" height="21" fill="#e9485a"/>
<rect x="665" y="184" width="3" height="19" fill="#e9485a"/>
<rect x="670" y="183" width="1" height="10" fill="#4eb283"/>
<rect x="669" y="184" width="3" height="2" fill="#4eb283"/>
<rect x="674" y="186" width="1" height="11" fill="#4eb283"/>
<rect x="673" y="188" width="3" height="6" fill="#4eb283"/>
<rect x="678" y="176" width="1" height="27" fill="#e9485a"/>
<rect x="677" y="180" width="3" height="22" fill="#e9485a"/>
<rect x="682" y="170" width="1" height="15" fill="#e9485a"/>
<rect x="681" y="178" width="3" height="2" fill="#e9485a"/>
<rect x="686" y="170" width="1" height="12" fill="#e9485a"/>
<rect x="685" y="177" width="3" height="1" fill="#e9485a"/>
<rect x="690" y="174" width="1" height="19" fill="#4eb283"/>
<rect x="689" y="177" width="3" height="13" fill="#4eb283"/>
<rect x="694" y="172" width="1" height="21" fill="#e9485a"/>
<rect x="693" y="173" width="3" height="18" fill="#e9485a"/>
<rect x="698" y="163" width="1" height="28" fill="#4eb283"/>
<rect x="697" y="173" width="3" height="18" fill="#4eb283"/>
<rect x="702" y="187" width="1" height="8" fill="#4eb283"/>
<rect x="701" y="190" width="3" height="1" fill="#4eb283"/>
<rect x="706" y="188" width="1" height="15" fill="#4eb283"/>
<rect x="705" y="192" width="3" height="1" fill="#4eb283"/>
<rect x="710" y="194" width="1" height="12" fill="#e9485a"/>
<rect x="709" y="196" width="3" height="9" fill="#e9485a"/>
<rect x="714" y="183" width="1" height="15" fill="#4eb283"/>
<rect x="713" y="196" width="3" height="2" fill="#4eb283"/>
<rect x="718" y="194" width="1" height="10" fill="#4eb283"/>
<rect x="717" y="198" width="3" height="2" fill="#4eb283"/>
<rect x="722" y="199" width="1" height="9" fill="#4eb283"/>
<rect x="721" y="200" width="3" height="4" fill="#4eb283"/>
<rect x="726" y="199" width="1" height="11" fill="#4eb283"/>
<rect x="725" y="202" width="3" height="2" fill="#4eb283"/>
<rect x="730" y="194" width="1" height="9" fill="#e9485a"/>
<rect x="729" y="197" width="3" height="6" fill="#e9485a"/>
<rect x="734" y="191" width="1" height="16" fill="#4eb283"/>
<rect x="733" y="198" width="3" height="9" fill="#4eb283"/>
<rect x="738" y="187" width="1" height="18" fill="#e9485a"/>
<rect x="737" y="189" width="3" height="16" fill="#e9485a"/>
<rect x="742" y="162" width="1" height="31" fill="#e9485a"/>
<rect x="741" y="168" width="3" height="21" fill="#e9485a"/>
<rect x="746" y="155" width="1" height="19" fill="#e9485a"/>
<rect x="745" y="158" width="3" height="9" fill="#e9485a"/>
<rect x="750" y="156" width="1" height="17" fill="#4eb283"/>
<rect x="749" y="158" width="3" height="9" fill="#4eb283"/>
<rect x="754" y="164" width="1" height="23" fill="#4eb283"/>
<rect x="753" y="168" width="3" height="19" fill="#4eb283"/>
<rect x="758" y="181" width="1" height="22" fill="#4eb283"/>
<rect x="757" y="190" width="3" height="6" fill="#4eb283"/>
<rect x="762" y="194" width="1" height="12" fill="#4eb283"/>
<rect x="761" y="197" width="3" height="9" fill="#4eb283"/>
<rect x="766" y="190" width="1" height="30" fill="#4eb283"/>
<rect x="765" y="206" width="3" height="9" fill="#4eb283"/>
<rect x="770" y="206" width="1" height="13" fill="#4eb283"/>
<rect x="769" y="214" width="3" height="4" fill="#4eb283"/>
<rect x="774" y="211" width="1" height="17" fill="#4eb283"/>
<rect x="773" y="218" width="3" height="5" fill="#4eb283"/>
<rect x="778" y="212" width="1" height="13" fill="#e9485a"/>
<rect x="777" y="218" width="3" height="4" fill="#e9485a"/>
<polyline points="46.0,96.5 59.2,98.1 75.3,100.0 91.5,101.6 107.6,103.2 123.8,104.9 139.9,107.4 160.0,109.2 176.2,110.5 192.3,112.8 208.5,114.6 224.6,116.0 240.8,117.3 256.9,119.2 273.1,121.3 291.2,122.6 307.3,124.9 323.5,126.5 339.6,128.1 355.8,130.2 371.9,131.8 388.1,133.4 395.0,134.6 400.0,134.3 410.0,136.2 420.0,137.5 430.0,140.6 440.0,143.7 449.8,146.2 459.8,147.7 469.8,150.5 479.8,152.7 489.7,155.5 499.7,158.0 509.7,159.3 520.0,161.8 537.0,163.4 556.0,166.7 575.1,169.5 595.0,172.3 612.1,174.0 629.2,173.6 646.4,173.6 663.5,174.8 680.6,175.3 697.7,175.3 711.4,176.5 722.8,177.7 734.2,178.5 745.6,179.4 757.0,179.6 768.4,180.5 778.0,180.5" fill="none" stroke="#ff8a3a" stroke-width="1" stroke-linejoin="round" shape-rendering="crispEdges"/>
<polyline points="46.0,130.1 59.2,133.6 75.3,139.3 91.5,143.3 107.6,146.2 123.8,149.5 139.9,151.4 156.1,153.3 176.2,153.2 192.3,152.0 208.5,150.4 224.6,149.6 240.8,147.7 256.9,147.2 273.1,146.7 291.2,144.7 299.2,145.2 307.3,146.8 323.5,148.8 339.6,150.4 355.8,152.3 371.9,153.3 388.1,153.6 400.0,153.7 416.2,153.7 424.9,155.2 437.4,157.6 449.8,160.1 462.3,162.4 474.8,163.9 487.2,166.7 499.7,170.1 512.1,173.0 520.0,173.8 537.0,177.1 556.0,181.9 575.1,187.6 594.1,193.6 603.6,195.9 612.1,197.1 629.2,197.6 646.4,199.6 663.5,201.4 680.6,203.4 697.7,204.8 711.4,206.2 722.8,207.0 734.2,207.0 745.6,206.2 757.0,206.2 768.4,206.8 778.0,208.5" fill="none" stroke="#31abe6" stroke-width="1" stroke-linejoin="round" shape-rendering="crispEdges"/>
<polyline points="46.0,154.6 59.2,155.0 75.3,156.2 91.5,157.0 107.6,157.9 123.8,163.5 131.9,164.6 148.0,164.0 160.0,162.2 169.7,160.9 176.2,158.5 192.3,153.7 208.5,149.3 224.6,145.6 240.8,141.2 256.9,138.6 273.1,137.0 291.2,135.5 300.8,133.4 307.3,133.9 323.5,134.6 339.6,137.8 355.8,141.5 371.9,145.9 388.1,152.0 395.0,153.9 400.0,157.1 410.0,158.0 416.2,160.5 424.9,164.6 432.4,168.6 439.9,174.6 435.6,171.8 447.0,177.9 458.4,182.5 469.9,187.1 481.3,191.6 489.5,198.0 499.0,203.4 508.5,208.5 518.0,212.9 527.5,214.8 537.0,216.7 546.6,219.0 556.0,221.8 565.6,224.3 575.1,227.5 584.6,230.0 594.1,232.3 603.6,234.2 612.1,234.7 620.7,232.2 629.2,227.9 637.8,221.6 646.4,219.3 654.9,218.5 663.5,218.1 672.0,216.8 680.6,213.3 689.1,209.9 697.7,205.6 705.7,203.1 711.4,201.6 717.1,200.2 722.8,199.4 728.5,198.8 734.2,197.9 739.9,196.5 745.6,193.6 751.3,191.0 757.0,189.9 768.4,189.4 778.0,188.3" fill="none" stroke="#3dbd78" stroke-width="1" stroke-linejoin="round" shape-rendering="crispEdges"/>
<polyline points="46.0,164.3 59.2,164.0 67.2,164.6 75.3,167.5 86.6,172.4 94.7,172.4 107.6,167.9 123.8,167.2 133.5,167.2 146.4,164.6 156.1,159.8 162.5,157.0 168.1,152.9 176.2,148.0 184.2,140.7 192.3,133.1 200.4,126.7 208.5,118.9 216.5,115.7 224.6,111.2 232.7,110.0 240.8,110.5 248.9,112.5 256.9,116.5 265.0,121.3 273.1,127.3 283.1,133.9 291.2,137.1 299.2,140.7 307.3,145.9 315.4,148.4 323.5,152.3 331.5,156.0 339.6,160.1 347.7,166.5 355.8,170.6 363.9,173.8 371.9,177.9 380.0,181.1 388.1,180.8 395.0,179.8 399.1,180.9 412.8,176.3 420.0,179.1 427.6,185.2 435.2,190.5 442.8,195.1 450.4,200.4 458.0,205.0 465.6,210.3 473.2,216.4 480.8,224.7 488.4,234.6 496.0,243.0 503.6,245.2 511.2,246.0 520.0,244.5 527.5,243.3 537.0,243.7 546.6,245.6 556.0,247.5 561.8,247.1 569.4,244.6 575.1,243.3 584.6,238.0 594.1,233.2 603.6,230.5 608.7,226.2 615.5,218.5 622.4,209.1 629.2,199.6 636.1,191.9 642.9,189.4 651.5,185.1 663.5,181.2 672.0,177.7 680.6,174.0 687.4,173.1 694.3,176.0 701.1,181.7 705.7,184.0 711.4,189.1 714.8,192.5 718.3,193.6 722.8,192.5 734.2,192.5 738.8,190.6 745.6,188.7 751.3,187.1 754.8,186.5 759.3,187.9 763.9,189.9 770.7,192.5 777.6,195.6" fill="none" stroke="#2e82f4" stroke-width="1" stroke-linejoin="round" shape-rendering="crispEdges"/>
<rect x="410" y="218" width="416" height="35" fill="rgb(0,0,255)" fill-opacity="0.15"/>
<rect x="43" y="217" width="852" height="1" fill="#3c0a0a"/>
<rect x="43" y="253" width="852" height="1" fill="#3c0a0a"/>
<text x="894.5" y="213.5" font-family="'Liberation Sans', sans-serif" font-size="12" fill="#2a0c0c" text-anchor="end">63.89</text>
<text x="894.5" y="249.5" font-family="'Liberation Sans', sans-serif" font-size="12" fill="#2a0c0c" text-anchor="end">60.00</text>
<rect x="895.5" y="217.5" width="70" height="17" fill="#fff" stroke="#ff7f1a" stroke-width="1"/>
<text x="898.5" y="230" font-family="'Liberation Sans', sans-serif" font-size="12" fill="#ff7f1a">63.96</text>
<path d="M959 209 L962.8 212.6 L955.2 212.6 Z M959 213.6 L963 217.4 L955 217.4 Z" fill="#ff7f1a"/>
<rect x="188" y="72" width="7" height="1" fill="#000"/>
<rect x="190" y="70" width="1" height="3" fill="#000"/>
<text x="195" y="68.7" font-family="'Liberation Sans', sans-serif" font-size="12" font-weight="bold" fill="#ea4a60">79.39</text>
<rect x="636" y="81" width="7" height="1" fill="#000"/>
<rect x="638" y="79" width="1" height="3" fill="#000"/>
<text x="643" y="77.7" font-family="'Liberation Sans', sans-serif" font-size="12" font-weight="bold" fill="#ea4a60">78.40</text>
<rect x="428" y="300" width="7" height="1" fill="#000"/>
<rect x="430" y="298" width="1" height="4" fill="#000"/>
<text x="435.5" y="311.5" font-family="'Liberation Sans', sans-serif" font-size="12" font-weight="bold" fill="#40ad84">55.12</text>
</g>
<rect x="895.5" y="217.5" width="70" height="17" fill="#fff" stroke="#ff7f1a" stroke-width="1"/>
<text x="898.5" y="230" font-family="'Liberation Sans', sans-serif" font-size="12" fill="#ff7f1a">63.96</text>
<path d="M959 209 L962.8 212.6 L955.2 212.6 Z M959 213.6 L963 217.4 L955 217.4 Z" fill="#ff7f1a"/>
<text x="894.5" y="213.5" font-family="'Liberation Sans', sans-serif" font-size="12" fill="#2a0c0c" text-anchor="end">63.89</text>
<text x="894.5" y="249.5" font-family="'Liberation Sans', sans-serif" font-size="12" fill="#2a0c0c" text-anchor="end">60.00</text>
<text x="45.6" y="331" font-family="'Liberation Sans', sans-serif" font-size="12" fill="#111" textLength="73.8" lengthAdjust="spacingAndGlyphs">RSI(14,14,14)</text>
<text x="124.7" y="331" font-family="'Liberation Sans', sans-serif" font-size="12" fill="#5a9cf6" textLength="59.2" lengthAdjust="spacingAndGlyphs">RSI1:41.18</text>
<text x="192.6" y="331" font-family="'Liberation Sans', sans-serif" font-size="12" fill="#5fc98c" textLength="59.2" lengthAdjust="spacingAndGlyphs">RSI2:41.18</text>
<text x="261.2" y="331" font-family="'Liberation Sans', sans-serif" font-size="12" fill="#4db6ea" textLength="58.6" lengthAdjust="spacingAndGlyphs">RSI3:41.18</text>
<polyline points="46.5,372.1 50.5,382.0 54.5,383.5 58.5,384.3 62.5,383.5 66.5,387.5 70.5,387.2 74.5,376.6 78.5,382.0 82.5,383.8 86.5,390.3 90.5,384.6 94.5,381.5 98.5,372.4 102.5,374.3 106.5,368.6 110.5,371.3 114.5,377.0 118.5,379.2 122.5,380.4 126.5,378.6 130.5,378.3 134.5,373.5 138.5,377.4 142.5,372.9 146.5,368.1 150.5,362.9 154.5,356.7 158.5,352.3 162.5,358.4 166.5,353.5 170.5,362.9 174.5,358.4 178.5,349.8 182.5,342.4 186.5,356.1 190.5,349.6 194.5,356.9 198.5,360.1 202.5,365.8 206.5,368.1 210.5,371.3 214.5,377.2 218.5,375.5 222.5,383.5 226.5,379.2 230.5,383.5 234.5,382.3 238.5,379.5 242.5,387.4 246.5,384.7 250.5,392.0 254.5,394.3 258.5,391.8 262.5,382.4 266.5,378.3 270.5,388.1 274.5,386.3 278.5,390.4 282.5,384.9 286.5,382.9 290.5,381.5 294.5,378.6 298.5,390.0 302.5,386.6 306.5,394.0 310.5,396.1 314.5,387.4 318.5,388.6 322.5,394.9 326.5,397.2 330.5,403.2 334.5,403.3 338.5,397.2 342.5,402.5 346.5,396.7 350.5,389.6 354.5,394.3 358.5,391.4 362.5,389.6 366.5,393.5 370.5,390.2 374.5,380.7 378.5,381.5 382.5,375.7 386.5,375.3 390.5,370.4 394.5,370.4 398.5,377.4 402.5,363.3 406.5,365.5 410.5,368.3 414.5,389.3 418.5,406.0 422.5,410.3 426.5,414.0 430.5,393.3 434.5,399.4 438.5,394.3 442.5,394.3 446.5,394.3 450.5,392.0 454.5,384.4 458.5,388.3 462.5,384.4 466.5,389.6 470.5,386.5 474.5,384.4 478.5,388.9 482.5,394.5 486.5,401.3 490.5,397.2 494.5,399.4 498.5,402.2 502.5,393.5 506.5,396.0 510.5,385.0 514.5,380.2 518.5,377.6 522.5,371.5 526.5,374.3 530.5,380.5 534.5,378.3 538.5,377.3 542.5,377.3 546.5,382.0 550.5,384.2 554.5,379.3 558.5,380.7 562.5,383.5 566.5,378.3 570.5,383.2 574.5,384.4 578.5,370.8 582.5,369.4 586.5,373.6 590.5,370.6 594.5,363.4 598.5,360.3 602.5,365.3 606.5,350.6 610.5,348.7 614.5,339.3 618.5,349.2 622.5,344.6 626.5,348.5 630.5,346.3 634.5,345.5 638.5,375.7 642.5,384.1 646.5,385.4 650.5,384.4 654.5,384.4 658.5,384.4 662.5,381.9 666.5,373.3 670.5,375.5 674.5,378.2 678.5,372.6 682.5,371.4 686.5,370.2 690.5,378.2 694.5,369.3 698.5,379.4 702.5,379.4 706.5,380.3 710.5,381.3 714.5,383.1 718.5,384.3 722.5,386.2 726.5,386.2 730.5,381.3 734.5,387.0 738.5,373.1 742.5,364.9 746.5,359.4 750.5,367.4 754.5,377.1 758.5,382.2 762.5,386.8 766.5,391.1 770.5,392.7 774.5,395.3 778.5,391.9" fill="none" stroke="#2fa9e1" stroke-width="1" stroke-linejoin="round" shape-rendering="crispEdges"/>
<text x="45.6" y="429.7" font-family="'Liberation Sans', sans-serif" font-size="12" fill="#111" textLength="84.7" lengthAdjust="spacingAndGlyphs">MACD(26,12,9)</text>
<text x="136" y="429.7" font-family="'Liberation Sans', sans-serif" font-size="12" fill="#5a9cf6" textLength="55.1" lengthAdjust="spacingAndGlyphs">DIFF:-0.65</text>
<text x="200.4" y="429.7" font-family="'Liberation Sans', sans-serif" font-size="12" fill="#5fc98c" textLength="55.2" lengthAdjust="spacingAndGlyphs">DEA:-0.20</text>
<text x="264.9" y="429.7" font-family="'Liberation Sans', sans-serif" font-size="12" fill="#4db6ea" textLength="67.9" lengthAdjust="spacingAndGlyphs">MACD:-0.90</text>
<g clip-path="url(#macdclip)">
<rect x="46" y="467" width="1" height="5" fill="#e9485a"/>
<rect x="50" y="468" width="1" height="4" fill="#e9485a"/>
<rect x="54" y="469" width="1" height="3" fill="#e9485a"/>
<rect x="58" y="470" width="1" height="2" fill="#e9485a"/>
<rect x="62" y="470" width="1" height="2" fill="#e9485a"/>
<rect x="66" y="471" width="1" height="1" fill="#4eb283"/>
<rect x="70" y="471" width="1" height="2" fill="#4eb283"/>
<rect x="74" y="470" width="1" height="2" fill="#e9485a"/>
<rect x="78" y="470" width="1" height="2" fill="#e9485a"/>
<rect x="82" y="470" width="1" height="2" fill="#e9485a"/>
<rect x="86" y="471" width="1" height="3" fill="#4eb283"/>
<rect x="90" y="471" width="1" height="2" fill="#4eb283"/>
<rect x="94" y="471" width="1" height="2" fill="#4eb283"/>
<rect x="98" y="468" width="1" height="4" fill="#e9485a"/>
<rect x="102" y="467" width="1" height="5" fill="#e9485a"/>
<rect x="106" y="465" width="1" height="7" fill="#e9485a"/>
<rect x="110" y="464" width="1" height="8" fill="#e9485a"/>
<rect x="114" y="465" width="1" height="7" fill="#e9485a"/>
<rect x="118" y="467" width="1" height="5" fill="#e9485a"/>
<rect x="122" y="468" width="1" height="4" fill="#e9485a"/>
<rect x="126" y="469" width="1" height="3" fill="#e9485a"/>
<rect x="130" y="469" width="1" height="3" fill="#e9485a"/>
<rect x="134" y="469" width="1" height="3" fill="#e9485a"/>
<rect x="138" y="469" width="1" height="3" fill="#e9485a"/>
<rect x="142" y="469" width="1" height="3" fill="#e9485a"/>
<rect x="146" y="468" width="1" height="4" fill="#e9485a"/>
<rect x="150" y="466" width="1" height="6" fill="#e9485a"/>
<rect x="154" y="463" width="1" height="9" fill="#e9485a"/>
<rect x="158" y="461" width="1" height="11" fill="#e9485a"/>
<rect x="162" y="461" width="1" height="11" fill="#e9485a"/>
<rect x="166" y="460" width="1" height="12" fill="#e9485a"/>
<rect x="170" y="462" width="1" height="10" fill="#e9485a"/>
<rect x="174" y="462" width="1" height="10" fill="#e9485a"/>
<rect x="178" y="460" width="1" height="12" fill="#e9485a"/>
<rect x="182" y="456" width="1" height="16" fill="#e9485a"/>
<rect x="186" y="458" width="1" height="14" fill="#e9485a"/>
<rect x="190" y="456" width="1" height="16" fill="#e9485a"/>
<rect x="194" y="458" width="1" height="14" fill="#e9485a"/>
<rect x="198" y="461" width="1" height="11" fill="#e9485a"/>
<rect x="202" y="465" width="1" height="7" fill="#e9485a"/>
<rect x="206" y="469" width="1" height="3" fill="#e9485a"/>
<rect x="210" y="471" width="1" height="2" fill="#4eb283"/>
<rect x="214" y="471" width="1" height="7" fill="#4eb283"/>
<rect x="218" y="471" width="1" height="9" fill="#4eb283"/>
<rect x="222" y="471" width="1" height="12" fill="#4eb283"/>
<rect x="226" y="471" width="1" height="13" fill="#4eb283"/>
<rect x="230" y="471" width="1" height="14" fill="#4eb283"/>
<rect x="234" y="471" width="1" height="14" fill="#4eb283"/>
<rect x="238" y="471" width="1" height="13" fill="#4eb283"/>
<rect x="242" y="471" width="1" height="13" fill="#4eb283"/>
<rect x="246" y="471" width="1" height="13" fill="#4eb283"/>
<rect x="250" y="471" width="1" height="14" fill="#4eb283"/>
<rect x="254" y="471" width="1" height="16" fill="#4eb283"/>
<rect x="258" y="471" width="1" height="15" fill="#4eb283"/>
<rect x="262" y="471" width="1" height="12" fill="#4eb283"/>
<rect x="266" y="471" width="1" height="8" fill="#4eb283"/>
<rect x="270" y="471" width="1" height="8" fill="#4eb283"/>
<rect x="274" y="471" width="1" height="7" fill="#4eb283"/>
<rect x="278" y="471" width="1" height="7" fill="#4eb283"/>
<rect x="282" y="471" width="1" height="7" fill="#4eb283"/>
<rect x="286" y="471" width="1" height="5" fill="#4eb283"/>
<rect x="290" y="471" width="1" height="3" fill="#4eb283"/>
<rect x="294" y="471" width="1" height="1" fill="#4eb283"/>
<rect x="298" y="471" width="1" height="3" fill="#4eb283"/>
<rect x="302" y="471" width="1" height="3" fill="#4eb283"/>
<rect x="306" y="471" width="1" height="5" fill="#4eb283"/>
<rect x="310" y="471" width="1" height="7" fill="#4eb283"/>
<rect x="314" y="471" width="1" height="5" fill="#4eb283"/>
<rect x="318" y="471" width="1" height="5" fill="#4eb283"/>
<rect x="322" y="471" width="1" height="6" fill="#4eb283"/>
<rect x="326" y="471" width="1" height="7" fill="#4eb283"/>
<rect x="330" y="471" width="1" height="9" fill="#4eb283"/>
<rect x="334" y="471" width="1" height="10" fill="#4eb283"/>
<rect x="338" y="471" width="1" height="9" fill="#4eb283"/>
<rect x="342" y="471" width="1" height="9" fill="#4eb283"/>
<rect x="346" y="471" width="1" height="8" fill="#4eb283"/>
<rect x="350" y="471" width="1" height="5" fill="#4eb283"/>
<rect x="354" y="471" width="1" height="4" fill="#4eb283"/>
<rect x="358" y="471" width="1" height="2" fill="#4eb283"/>
<rect x="362" y="470" width="1" height="2" fill="#e9485a"/>
<rect x="366" y="470" width="1" height="2" fill="#e9485a"/>
<rect x="370" y="469" width="1" height="3" fill="#e9485a"/>
<rect x="374" y="467" width="1" height="5" fill="#e9485a"/>
<rect x="378" y="465" width="1" height="7" fill="#e9485a"/>
<rect x="382" y="463" width="1" height="9" fill="#e9485a"/>
<rect x="386" y="462" width="1" height="10" fill="#e9485a"/>
<rect x="390" y="460" width="1" height="12" fill="#e9485a"/>
<rect x="394" y="460" width="1" height="12" fill="#e9485a"/>
<rect x="398" y="461" width="1" height="11" fill="#e9485a"/>
<rect x="402" y="459" width="1" height="13" fill="#e9485a"/>
<rect x="406" y="459" width="1" height="13" fill="#e9485a"/>
<rect x="410" y="460" width="1" height="12" fill="#e9485a"/>
<rect x="414" y="466" width="1" height="6" fill="#e9485a"/>
<rect x="418" y="471" width="1" height="5" fill="#4eb283"/>
<rect x="422" y="471" width="1" height="15" fill="#4eb283"/>
<rect x="426" y="471" width="1" height="23" fill="#4eb283"/>
<rect x="430" y="471" width="1" height="21" fill="#4eb283"/>
<rect x="434" y="471" width="1" height="20" fill="#4eb283"/>
<rect x="438" y="471" width="1" height="18" fill="#4eb283"/>
<rect x="442" y="471" width="1" height="15" fill="#4eb283"/>
<rect x="446" y="471" width="1" height="13" fill="#4eb283"/>
<rect x="450" y="471" width="1" height="10" fill="#4eb283"/>
<rect x="454" y="471" width="1" height="3" fill="#4eb283"/>
<rect x="458" y="471" width="1" height="2" fill="#4eb283"/>
<rect x="462" y="469" width="1" height="3" fill="#e9485a"/>
<rect x="466" y="468" width="1" height="4" fill="#e9485a"/>
<rect x="470" y="467" width="1" height="5" fill="#e9485a"/>
<rect x="474" y="466" width="1" height="6" fill="#e9485a"/>
<rect x="478" y="467" width="1" height="5" fill="#e9485a"/>
<rect x="482" y="470" width="1" height="2" fill="#e9485a"/>
<rect x="486" y="471" width="1" height="4" fill="#4eb283"/>
<rect x="490" y="471" width="1" height="5" fill="#4eb283"/>
<rect x="494" y="471" width="1" height="6" fill="#4eb283"/>
<rect x="498" y="471" width="1" height="8" fill="#4eb283"/>
<rect x="502" y="471" width="1" height="5" fill="#4eb283"/>
<rect x="506" y="471" width="1" height="5" fill="#4eb283"/>
<rect x="510" y="471" width="1" height="1" fill="#e9485a"/>
<rect x="514" y="466" width="1" height="6" fill="#e9485a"/>
<rect x="518" y="463" width="1" height="9" fill="#e9485a"/>
<rect x="522" y="458" width="1" height="14" fill="#e9485a"/>
<rect x="526" y="457" width="1" height="15" fill="#e9485a"/>
<rect x="530" y="458" width="1" height="14" fill="#e9485a"/>
<rect x="534" y="459" width="1" height="13" fill="#e9485a"/>
<rect x="538" y="460" width="1" height="12" fill="#e9485a"/>
<rect x="542" y="460" width="1" height="12" fill="#e9485a"/>
<rect x="546" y="462" width="1" height="10" fill="#e9485a"/>
<rect x="550" y="465" width="1" height="7" fill="#e9485a"/>
<rect x="554" y="465" width="1" height="7" fill="#e9485a"/>
<rect x="558" y="466" width="1" height="6" fill="#e9485a"/>
<rect x="562" y="467" width="1" height="5" fill="#e9485a"/>
<rect x="566" y="467" width="1" height="5" fill="#e9485a"/>
<rect x="570" y="468" width="1" height="4" fill="#e9485a"/>
<rect x="574" y="469" width="1" height="3" fill="#e9485a"/>
<rect x="578" y="467" width="1" height="5" fill="#e9485a"/>
<rect x="582" y="465" width="1" height="7" fill="#e9485a"/>
<rect x="586" y="465" width="1" height="7" fill="#e9485a"/>
<rect x="590" y="465" width="1" height="7" fill="#e9485a"/>
<rect x="594" y="463" width="1" height="9" fill="#e9485a"/>
<rect x="598" y="461" width="1" height="11" fill="#e9485a"/>
<rect x="602" y="461" width="1" height="11" fill="#e9485a"/>
<rect x="606" y="457" width="1" height="15" fill="#e9485a"/>
<rect x="610" y="455" width="1" height="17" fill="#e9485a"/>
<rect x="614" y="448" width="1" height="24" fill="#e9485a"/>
<rect x="618" y="448" width="1" height="24" fill="#e9485a"/>
<rect x="622" y="446" width="1" height="26" fill="#e9485a"/>
<rect x="626" y="447" width="1" height="25" fill="#e9485a"/>
<rect x="630" y="448" width="1" height="24" fill="#e9485a"/>
<rect x="634" y="451" width="1" height="21" fill="#e9485a"/>
<rect x="638" y="463" width="1" height="9" fill="#e9485a"/>
<rect x="642" y="471" width="1" height="4" fill="#4eb283"/>
<rect x="646" y="471" width="1" height="12" fill="#4eb283"/>
<rect x="650" y="471" width="1" height="16" fill="#4eb283"/>
<rect x="654" y="471" width="1" height="19" fill="#4eb283"/>
<rect x="658" y="471" width="1" height="20" fill="#4eb283"/>
<rect x="662" y="471" width="1" height="19" fill="#4eb283"/>
<rect x="666" y="471" width="1" height="15" fill="#4eb283"/>
<rect x="670" y="471" width="1" height="13" fill="#4eb283"/>
<rect x="674" y="471" width="1" height="12" fill="#4eb283"/>
<rect x="678" y="471" width="1" height="9" fill="#4eb283"/>
<rect x="682" y="471" width="1" height="6" fill="#4eb283"/>
<rect x="686" y="471" width="1" height="4" fill="#4eb283"/>
<rect x="690" y="471" width="1" height="5" fill="#4eb283"/>
<rect x="694" y="471" width="1" height="2" fill="#4eb283"/>
<rect x="698" y="471" width="1" height="4" fill="#4eb283"/>
<rect x="702" y="471" width="1" height="5" fill="#4eb283"/>
<rect x="706" y="471" width="1" height="6" fill="#4eb283"/>
<rect x="710" y="471" width="1" height="6" fill="#4eb283"/>
<rect x="714" y="471" width="1" height="7" fill="#4eb283"/>
<rect x="718" y="471" width="1" height="7" fill="#4eb283"/>
<rect x="722" y="471" width="1" height="7" fill="#4eb283"/>
<rect x="726" y="471" width="1" height="7" fill="#4eb283"/>
<rect x="730" y="471" width="1" height="7" fill="#4eb283"/>
<rect x="734" y="471" width="1" height="7" fill="#4eb283"/>
<rect x="738" y="471" width="1" height="4" fill="#4eb283"/>
<rect x="742" y="469" width="1" height="3" fill="#e9485a"/>
<rect x="746" y="465" width="1" height="7" fill="#e9485a"/>
<rect x="750" y="464" width="1" height="8" fill="#e9485a"/>
<rect x="754" y="466" width="1" height="6" fill="#e9485a"/>
<rect x="758" y="470" width="1" height="2" fill="#e9485a"/>
<rect x="762" y="471" width="1" height="2" fill="#4eb283"/>
<rect x="766" y="471" width="1" height="7" fill="#4eb283"/>
<rect x="770" y="471" width="1" height="9" fill="#4eb283"/>
<rect x="774" y="471" width="1" height="11" fill="#4eb283"/>
<rect x="778" y="471" width="1" height="11" fill="#4eb283"/>
<polyline points="46.5,477.4 50.5,477.4 54.5,476.5 58.5,476.5 62.5,476.5 66.5,476.5 70.5,476.5 74.5,476.5 78.5,476.5 82.5,476.5 86.5,476.5 90.5,476.5 94.5,476.5 98.5,476.5 102.5,475.4 106.5,475.3 110.5,474.3 114.5,473.4 118.5,472.7 122.5,472.4 126.5,472.4 130.5,472.2 134.5,471.4 138.5,471.1 142.5,471.1 146.5,470.6 150.5,469.6 154.5,468.0 158.5,466.5 162.5,466.0 166.5,464.9 170.5,463.7 174.5,462.6 178.5,460.8 182.5,459.2 186.5,457.7 190.5,455.6 194.5,454.0 198.5,453.3 202.5,452.7 206.5,452.5 210.5,452.7 214.5,453.3 218.5,454.0 222.5,455.0 226.5,456.6 230.5,458.2 234.5,459.5 238.5,461.3 242.5,462.8 246.5,464.4 250.5,466.5 254.5,468.2 258.5,470.1 262.5,470.9 266.5,472.2 270.5,473.0 274.5,473.7 278.5,474.3 282.5,475.3 286.5,476.3 290.5,476.3 294.5,476.3 298.5,476.3 302.5,476.3 306.5,477.2 310.5,478.4 314.5,478.6 318.5,479.3 322.5,479.5 326.5,480.3 330.5,481.3 334.5,482.6 338.5,483.6 342.5,484.4 346.5,485.5 350.5,486.2 354.5,486.5 358.5,486.5 362.5,486.5 366.5,486.5 370.5,486.2 374.5,485.5 378.5,484.4 382.5,483.1 386.5,482.1 390.5,480.9 394.5,480.0 398.5,478.6 402.5,477.2 406.5,475.5 410.5,474.3 414.5,473.2 418.5,474.0 422.5,475.8 426.5,478.6 430.5,481.0 434.5,483.1 438.5,485.2 442.5,487.2 446.5,489.6 450.5,490.4 454.5,490.4 458.5,490.4 462.5,490.4 466.5,489.6 470.5,488.8 474.5,488.3 478.5,488.3 482.5,488.0 486.5,488.3 490.5,489.3 494.5,489.6 498.5,490.4 502.5,490.4 506.5,491.4 510.5,491.1 514.5,490.4 518.5,489.3 522.5,488.3 526.5,486.5 530.5,484.7 534.5,483.1 538.5,481.5 542.5,480.3 546.5,479.3 550.5,478.6 554.5,478.2 558.5,477.2 562.5,476.3 566.5,476.3 570.5,475.8 574.5,475.3 578.5,475.3 582.5,474.3 586.5,473.3 590.5,472.4 594.5,471.3 598.5,469.9 602.5,468.5 606.5,466.3 610.5,463.6 614.5,460.8 618.5,458.3 622.5,455.7 626.5,453.4 630.5,451.1 634.5,449.2 638.5,447.3 642.5,447.3 646.5,448.3 650.5,450.3 654.5,452.9 658.5,454.8 662.5,456.6 666.5,458.6 670.5,460.0 674.5,461.8 678.5,463.2 682.5,463.4 686.5,464.4 690.5,464.4 694.5,464.6 698.5,465.0 702.5,465.5 706.5,466.2 710.5,466.6 714.5,467.2 718.5,468.3 722.5,469.4 726.5,470.3 730.5,470.3 734.5,471.5 738.5,472.5 742.5,471.5 746.5,471.3 750.5,470.1 754.5,469.4 758.5,469.4 762.5,469.4 766.5,470.1 770.5,471.1 774.5,472.2 778.5,473.1" fill="none" stroke="#3dbd78" stroke-width="1" stroke-linejoin="round" shape-rendering="crispEdges"/>
<polyline points="46.5,475.4 50.5,475.4 54.5,475.4 58.5,476.5 62.5,476.5 66.5,476.5 70.5,477.4 74.5,475.5 78.5,475.5 82.5,475.5 86.5,477.4 90.5,477.4 94.5,476.5 98.5,475.5 102.5,474.3 106.5,471.0 110.5,470.3 114.5,470.3 118.5,470.3 122.5,471.2 126.5,471.2 130.5,471.2 134.5,470.6 138.5,470.6 142.5,470.6 146.5,468.9 150.5,466.5 154.5,463.7 158.5,461.8 162.5,460.8 166.5,459.5 170.5,459.2 174.5,458.2 178.5,455.6 182.5,452.5 186.5,450.9 190.5,448.3 194.5,448.3 198.5,448.3 202.5,449.1 206.5,450.9 210.5,453.5 214.5,456.4 218.5,458.7 222.5,461.3 226.5,462.6 230.5,465.1 234.5,466.5 238.5,467.2 242.5,468.9 246.5,470.6 250.5,473.4 254.5,475.1 258.5,476.3 262.5,476.3 266.5,475.3 270.5,475.8 274.5,477.4 278.5,478.4 282.5,478.4 286.5,478.4 290.5,477.2 294.5,476.6 298.5,477.2 302.5,477.2 306.5,479.5 310.5,481.3 314.5,481.3 318.5,481.5 322.5,482.6 326.5,483.6 330.5,485.7 334.5,487.6 338.5,487.8 342.5,488.3 346.5,488.3 350.5,487.2 354.5,487.2 358.5,485.5 362.5,485.5 366.5,485.5 370.5,484.9 374.5,482.4 378.5,480.5 382.5,479.3 386.5,477.9 390.5,475.5 394.5,474.3 398.5,473.2 402.5,471.0 406.5,469.3 410.5,468.6 414.5,470.3 418.5,475.8 422.5,481.5 426.5,488.3 430.5,490.9 434.5,493.0 438.5,493.2 442.5,493.2 446.5,493.2 450.5,492.8 454.5,491.4 458.5,490.9 462.5,489.3 466.5,488.3 470.5,487.2 474.5,486.5 478.5,486.5 482.5,487.2 486.5,489.3 490.5,490.7 494.5,492.4 498.5,493.5 502.5,493.5 506.5,493.0 510.5,490.7 514.5,488.3 518.5,485.7 522.5,481.0 526.5,479.3 530.5,478.4 534.5,477.4 538.5,476.3 542.5,475.3 546.5,475.3 550.5,475.3 554.5,475.3 558.5,474.3 562.5,474.3 566.5,474.3 570.5,474.3 574.5,474.3 578.5,473.0 582.5,471.0 586.5,469.9 590.5,469.0 594.5,467.4 598.5,465.6 602.5,464.0 606.5,459.1 610.5,457.4 614.5,451.1 618.5,448.2 622.5,444.3 626.5,441.4 630.5,439.7 634.5,438.2 638.5,443.1 642.5,448.3 646.5,453.2 650.5,458.2 654.5,461.1 658.5,463.9 662.5,466.2 666.5,466.6 670.5,466.6 674.5,467.3 678.5,466.5 682.5,466.4 686.5,465.0 690.5,466.4 694.5,465.0 698.5,466.2 702.5,467.3 706.5,468.5 710.5,469.4 714.5,470.1 718.5,471.3 722.5,472.5 726.5,473.1 730.5,473.1 734.5,474.6 738.5,472.9 742.5,470.1 746.5,467.8 750.5,466.4 754.5,467.3 758.5,468.5 762.5,470.1 766.5,472.2 770.5,474.6 774.5,476.5 778.5,478.0" fill="none" stroke="#2e82f4" stroke-width="1" stroke-linejoin="round" shape-rendering="crispEdges"/>
</g>
<text x="834.5" y="502.4" font-family="'Liberation Sans', sans-serif" font-size="31" fill="#c4b5a6" letter-spacing="1.9">FX678</text>
<text x="833.5" y="501.4" font-family="'Liberation Sans', sans-serif" font-size="31" fill="#dde8f8" letter-spacing="1.9">FX678</text>
<rect x="42" y="494" width="1" height="19" fill="#dfe2e8"/>
<rect x="0" y="513" width="963" height="1" fill="#dfe2e8"/>
<text x="-1" y="509.5" font-family="'Liberation Sans', sans-serif" font-size="12.5" font-weight="bold" fill="#ff7d1e">线</text>
<path d="M21.8 501 L26.2 508.6 L17.4 508.6 Z" fill="#ff7d1e"/>
<rect x="70" y="495" width="1" height="4" fill="#d5d9e0"/>
<text x="72" y="506.8" font-family="'Liberation Sans', sans-serif" font-size="12" font-weight="bold" fill="#22263a" letter-spacing="0.1">2024/12</text>
<rect x="154" y="495" width="1" height="4" fill="#d5d9e0"/>
<text x="156" y="506.8" font-family="'Liberation Sans', sans-serif" font-size="12" font-weight="bold" fill="#22263a" letter-spacing="0.1">2025/01</text>
<rect x="242" y="495" width="1" height="4" fill="#d5d9e0"/>
<text x="244" y="506.8" font-family="'Liberation Sans', sans-serif" font-size="12" font-weight="bold" fill="#22263a" letter-spacing="0.1">2025/02</text>
<rect x="322" y="495" width="1" height="4" fill="#d5d9e0"/>
<text x="324" y="506.8" font-family="'Liberation Sans', sans-serif" font-size="12" font-weight="bold" fill="#22263a" letter-spacing="0.1">2025/03</text>
<rect x="406" y="495" width="1" height="4" fill="#d5d9e0"/>
<text x="408" y="506.8" font-family="'Liberation Sans', sans-serif" font-size="12" font-weight="bold" fill="#22263a" letter-spacing="0.1">2025/04</text>
<rect x="490" y="495" width="1" height="4" fill="#d5d9e0"/>
<text x="492" y="506.8" font-family="'Liberation Sans', sans-serif" font-size="12" font-weight="bold" fill="#22263a" letter-spacing="0.1">2025/05</text>
<rect x="578" y="495" width="1" height="4" fill="#d5d9e0"/>
<text x="580" y="506.8" font-family="'Liberation Sans', sans-serif" font-size="12" font-weight="bold" fill="#22263a" letter-spacing="0.1">2025/06</text>
<rect x="662" y="495" width="1" height="4" fill="#d5d9e0"/>
<text x="664" y="506.8" font-family="'Liberation Sans', sans-serif" font-size="12" font-weight="bold" fill="#22263a" letter-spacing="0.1">2025/07</text>
<rect x="754" y="495" width="1" height="4" fill="#d5d9e0"/>
<text x="756" y="506.8" font-family="'Liberation Sans', sans-serif" font-size="12" font-weight="bold" fill="#22263a" letter-spacing="0.1">2025/08</text>
<rect x="0" y="514" width="963" height="12" fill="#fff"/>
<rect x="0" y="514" width="12" height="12" fill="#ff6a00"/>
<text x="-2" y="526" font-family="'Liberation Sans', sans-serif" font-size="12" fill="#fff">标</text>
<rect x="12" y="514" width="1" height="12" fill="#d5d8de"/>
<rect x="52" y="514" width="1" height="12" fill="#d5d8de"/>
<rect x="110" y="514" width="1" height="12" fill="#d5d8de"/>
<rect x="138" y="514" width="1" height="12" fill="#d5d8de"/>
<rect x="179" y="514" width="1" height="12" fill="#d5d8de"/>
<rect x="206" y="514" width="1" height="12" fill="#d5d8de"/>
<rect x="240" y="514" width="1" height="12" fill="#d5d8de"/>
<rect x="280" y="514" width="1" height="12" fill="#d5d8de"/>
<rect x="315" y="514" width="1" height="12" fill="#d5d8de"/>
<rect x="348" y="514" width="1" height="12" fill="#d5d8de"/>
<rect x="382" y="514" width="1" height="12" fill="#d5d8de"/>
<rect x="410" y="514" width="1" height="12" fill="#d5d8de"/>
<rect x="444" y="514" width="1" height="12" fill="#d5d8de"/>
<rect x="484" y="514" width="1" height="12" fill="#d5d8de"/>
<rect x="519" y="514" width="1" height="12" fill="#d5d8de"/>
<rect x="618" y="514" width="1" height="12" fill="#d5d8de"/>
<rect x="658" y="514" width="1" height="12" fill="#d5d8de"/>
<text x="21" y="526.2" font-family="'Liberation Sans', sans-serif" font-size="12" fill="#111">模板</text>
<text x="61.7" y="525.6" font-family="'Liberation Mono', monospace" font-size="13" fill="#ff7d1e" textLength="17" lengthAdjust="spacingAndGlyphs">VIP</text>
<text x="79" y="526.2" font-family="'Liberation Sans', sans-serif" font-size="12" fill="#ff7d1e">指标</text>
<text x="118.7" y="525.6" font-family="'Liberation Mono', monospace" font-size="13" fill="#111" textLength="12.1" lengthAdjust="spacingAndGlyphs">MA</text>
<text x="146.1" y="525.6" font-family="'Liberation Mono', monospace" font-size="13" fill="#111" textLength="24.2" lengthAdjust="spacingAndGlyphs">MACD</text>
<text x="186" y="525.6" font-family="'Liberation Mono', monospace" font-size="13" fill="#111" textLength="12.1" lengthAdjust="spacingAndGlyphs">PP</text>
<text x="214.6" y="525.6" font-family="'Liberation Mono', monospace" font-size="13" fill="#111" textLength="18.1" lengthAdjust="spacingAndGlyphs">PPS</text>
<text x="248.3" y="525.6" font-family="'Liberation Mono', monospace" font-size="13" fill="#111" textLength="24.2" lengthAdjust="spacingAndGlyphs">BIAS</text>
<text x="288.2" y="525.6" font-family="'Liberation Mono', monospace" font-size="13" fill="#111" textLength="18.1" lengthAdjust="spacingAndGlyphs">CCI</text>
<text x="322.5" y="525.6" font-family="'Liberation Mono', monospace" font-size="13" fill="#111" textLength="18.1" lengthAdjust="spacingAndGlyphs">KDJ</text>
<text x="356.1" y="525.6" font-family="'Liberation Mono', monospace" font-size="13" fill="#111" textLength="18.1" lengthAdjust="spacingAndGlyphs">RSI</text>
<text x="390.2" y="525.6" font-family="'Liberation Mono', monospace" font-size="13" fill="#111" textLength="12.1" lengthAdjust="spacingAndGlyphs">CR</text>
<text x="418.4" y="525.6" font-family="'Liberation Mono', monospace" font-size="13" fill="#111" textLength="18.1" lengthAdjust="spacingAndGlyphs">PSY</text>
<text x="452.6" y="525.6" font-family="'Liberation Mono', monospace" font-size="13" fill="#111" textLength="24.2" lengthAdjust="spacingAndGlyphs">BOLL</text>
<text x="493.2" y="525.6" font-family="'Liberation Mono', monospace" font-size="13" fill="#111" textLength="18.1" lengthAdjust="spacingAndGlyphs">VOL</text>
<text x="526.2" y="525.6" font-family="'Liberation Mono', monospace" font-size="13" fill="#111" textLength="84.7" lengthAdjust="spacingAndGlyphs">ICHIMOKU CLOUD</text>
<text x="627" y="526.2" font-family="'Liberation Sans', sans-serif" font-size="12" fill="#111">设置</text>
</svg>
</body></html>
